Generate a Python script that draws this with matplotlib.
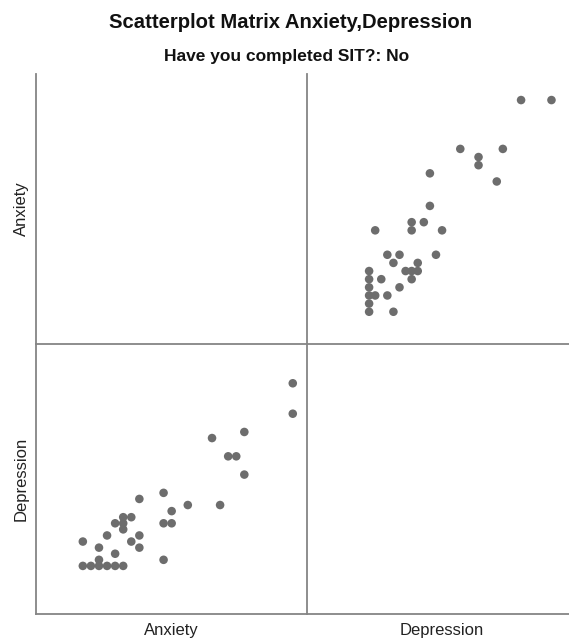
#!/usr/bin/env python3
"""Scatterplot matrix of Anxiety and Depression scores (SIT not completed)."""

import matplotlib
matplotlib.use("Agg")
import matplotlib.pyplot as plt

# Scores, one entry per respondent
anxiety = [26, 26, 20, 16, 18, 19, 20, 10, 7, 13, 17, 11, 5, 6, 4, 5, 10,
           11, 5, 3, 7, 0, 6, 2, 7, 4, 10, 2, 0, 1, 2, 3, 4, 5]
depression = [30, 25, 22, 21, 18, 18, 15, 12, 11, 10, 10, 9, 8, 8, 7, 7, 7,
              7, 6, 5, 5, 4, 4, 3, 3, 2, 1, 1, 0, 0, 0, 0, 0, 0]
variables = ["Anxiety", "Depression"]

# Axis ranges for each variable, depending on whether it sits on x or y
x_range = {"Anxiety": (-5.8, 27.7), "Depression": (-10.3, 34.2)}
y_range = {"Anxiety": (-3.96, 29.2), "Depression": (-7.9, 36.45)}

W, H = 569, 642
LINE = "#858585"
DOT = "#6d6d6d"


def px_axes(fig, left, top, right, bottom):
    # Add an axes given pixel edges measured from the top-left corner
    return fig.add_axes([left / W, 1 - bottom / H, (right - left) / W, (bottom - top) / H])


def main() -> None:
    fig = plt.figure(figsize=(W / 100, H / 100), dpi=100)
    plt.rcParams["font.family"] = ["Liberation Sans", "DejaVu Sans"]

    cols = [(36, 306.5), (306.5, 577)]
    rows = [(74, 344), (344, 614)]
    data = {"Anxiety": anxiety, "Depression": depression}

    for r, yvar in enumerate(variables):
        for c, xvar in enumerate(variables):
            ax = px_axes(fig, cols[c][0], rows[r][0], cols[c][1], rows[r][1])
            ax.set_xlim(*x_range[xvar])
            ax.set_ylim(*y_range[yvar])
            ax.set_xticks([])
            ax.set_yticks([])
            for side in ("top", "right"):
                ax.spines[side].set_visible(False)
            for side in ("left", "bottom"):
                ax.spines[side].set_color(LINE)
                ax.spines[side].set_linewidth(1.3)
            ax.patch.set_alpha(0)
            if xvar != yvar:
                ax.scatter(data[xvar], data[yvar], s=38, color=DOT,
                           edgecolors="none", zorder=3, clip_on=False)

    # Variable names along the bottom and the left side
    for c, name in enumerate(variables):
        fig.text((cols[c][0] + cols[c][1]) / 2 / W, 1 - 630 / H, name,
                 ha="center", va="center", fontsize=12, color="#222222")
    for r, name in enumerate(variables):
        fig.text(21 / W, 1 - (rows[r][0] + rows[r][1]) / 2 / H, name,
                 ha="center", va="center", rotation=90, fontsize=12, color="#222222")

    fig.text(291 / W, 1 - 22 / H, "Scatterplot Matrix Anxiety,Depression",
             ha="center", va="center", fontsize=14.6, fontweight="bold", color="#111111")
    fig.text(287 / W, 1 - 56 / H, "Have you completed SIT?: No",
             ha="center", va="center", fontsize=12.5, fontweight="bold", color="#111111")

    fig.savefig("out.png", dpi=100)


if __name__ == "__main__":
    main()
